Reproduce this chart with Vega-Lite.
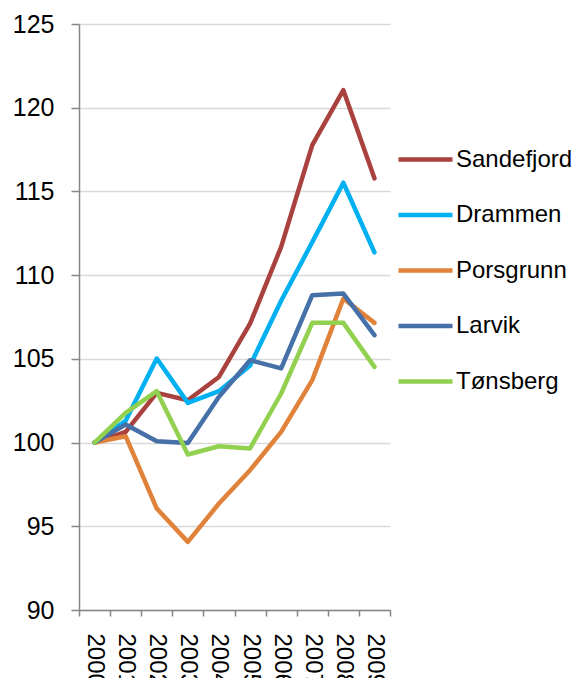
{
  "$schema": "https://vega.github.io/schema/vega-lite/v6.json",
  "width": 311,
  "height": 586,
  "autosize": {"type": "none"},
  "padding": {"left": 79, "top": 24, "right": 186, "bottom": 68},
  "background": "white",
  "config": {
    "view": {"stroke": null},
    "font": "Liberation Sans"
  },
  "data": {
    "values": [
      {"year": 2000, "city": "Sandefjord", "value": 100},
      {"year": 2001, "city": "Sandefjord", "value": 100.64},
      {"year": 2002, "city": "Sandefjord", "value": 102.97},
      {"year": 2003, "city": "Sandefjord", "value": 102.53},
      {"year": 2004, "city": "Sandefjord", "value": 103.92},
      {"year": 2005, "city": "Sandefjord", "value": 107.1},
      {"year": 2006, "city": "Sandefjord", "value": 111.69},
      {"year": 2007, "city": "Sandefjord", "value": 117.77},
      {"year": 2008, "city": "Sandefjord", "value": 121.05},
      {"year": 2009, "city": "Sandefjord", "value": 115.78},
      {"year": 2000, "city": "Drammen", "value": 100},
      {"year": 2001, "city": "Drammen", "value": 101.3},
      {"year": 2002, "city": "Drammen", "value": 105.02},
      {"year": 2003, "city": "Drammen", "value": 102.37},
      {"year": 2004, "city": "Drammen", "value": 103.07},
      {"year": 2005, "city": "Drammen", "value": 104.6},
      {"year": 2006, "city": "Drammen", "value": 108.47},
      {"year": 2007, "city": "Drammen", "value": 111.97},
      {"year": 2008, "city": "Drammen", "value": 115.52},
      {"year": 2009, "city": "Drammen", "value": 111.36},
      {"year": 2000, "city": "Porsgrunn", "value": 100},
      {"year": 2001, "city": "Porsgrunn", "value": 100.38},
      {"year": 2002, "city": "Porsgrunn", "value": 96.06},
      {"year": 2003, "city": "Porsgrunn", "value": 94.07},
      {"year": 2004, "city": "Porsgrunn", "value": 96.36},
      {"year": 2005, "city": "Porsgrunn", "value": 98.35},
      {"year": 2006, "city": "Porsgrunn", "value": 100.64},
      {"year": 2007, "city": "Porsgrunn", "value": 103.73},
      {"year": 2008, "city": "Porsgrunn", "value": 108.6},
      {"year": 2009, "city": "Porsgrunn", "value": 107.15},
      {"year": 2000, "city": "Larvik", "value": 100},
      {"year": 2001, "city": "Larvik", "value": 101.08},
      {"year": 2002, "city": "Larvik", "value": 100.08},
      {"year": 2003, "city": "Larvik", "value": 99.98},
      {"year": 2004, "city": "Larvik", "value": 102.73},
      {"year": 2005, "city": "Larvik", "value": 104.92},
      {"year": 2006, "city": "Larvik", "value": 104.43},
      {"year": 2007, "city": "Larvik", "value": 108.8},
      {"year": 2008, "city": "Larvik", "value": 108.9},
      {"year": 2009, "city": "Larvik", "value": 106.42},
      {"year": 2000, "city": "Tønsberg", "value": 100},
      {"year": 2001, "city": "Tønsberg", "value": 101.77},
      {"year": 2002, "city": "Tønsberg", "value": 103.07},
      {"year": 2003, "city": "Tønsberg", "value": 99.29},
      {"year": 2004, "city": "Tønsberg", "value": 99.78},
      {"year": 2005, "city": "Tønsberg", "value": 99.65},
      {"year": 2006, "city": "Tønsberg", "value": 102.93},
      {"year": 2007, "city": "Tønsberg", "value": 107.15},
      {"year": 2008, "city": "Tønsberg", "value": 107.15},
      {"year": 2009, "city": "Tønsberg", "value": 104.52}
    ]
  },
  "mark": {"type": "line", "strokeWidth": 4.5, "strokeCap": "round", "strokeJoin": "round", "clip": false},
  "encoding": {
    "x": {
      "field": "year",
      "type": "quantitative",
      "scale": {"domain": [1999.5, 2009.5], "nice": false, "zero": false},
      "axis": {
        "title": null,
        "grid": false,
        "values": [1999.5, 2000, 2000.5, 2001, 2001.5, 2002, 2002.5, 2003, 2003.5, 2004, 2004.5, 2005, 2005.5, 2006, 2006.5, 2007, 2007.5, 2008, 2008.5, 2009, 2009.5],
        "labelExpr": "datum.value % 1 === 0 ? toString(datum.value) : ''",
        "tickOpacity": {"condition": {"test": "datum.value % 1 === 0", "value": 0}, "value": 1},
        "labelAngle": 90,
        "labelFontSize": 24,
        "labelColor": "#000000",
        "labelPadding": 17,
        "labelFlush": false,
        "labelOverlap": false,
        "labelBound": false,
        "tickSize": 6,
        "tickColor": "#868686",
        "tickWidth": 1.5,
        "domainColor": "#868686",
        "domainWidth": 1.5
      }
    },
    "y": {
      "field": "value",
      "type": "quantitative",
      "scale": {"domain": [90, 125], "nice": false, "zero": false},
      "axis": {
        "title": null,
        "values": [90, 95, 100, 105, 110, 115, 120, 125],
        "labelFontSize": 25,
        "labelColor": "#000000",
        "labelPadding": 17,
        "tickSize": 8,
        "tickColor": "#868686",
        "tickWidth": 1.5,
        "domainColor": "#868686",
        "domainWidth": 1.5,
        "gridColor": "#d9d9d9",
        "gridWidth": 1.5
      }
    },
    "color": {
      "field": "city",
      "type": "nominal",
      "scale": {
        "domain": ["Sandefjord", "Drammen", "Porsgrunn", "Larvik", "Tønsberg"],
        "range": ["#A9413E", "#00B0F0", "#E0823A", "#4570A8", "#92D050"]
      },
      "legend": {
        "title": null,
        "orient": "none",
        "legendX": 317,
        "legendY": 106,
        "symbolType": "stroke",
        "symbolSize": 2916,
        "symbolStrokeWidth": 4.5,
        "labelFontSize": 24,
        "labelColor": "#000000",
        "labelOffset": 1,
        "rowPadding": 13.5
      }
    }
  }
}
